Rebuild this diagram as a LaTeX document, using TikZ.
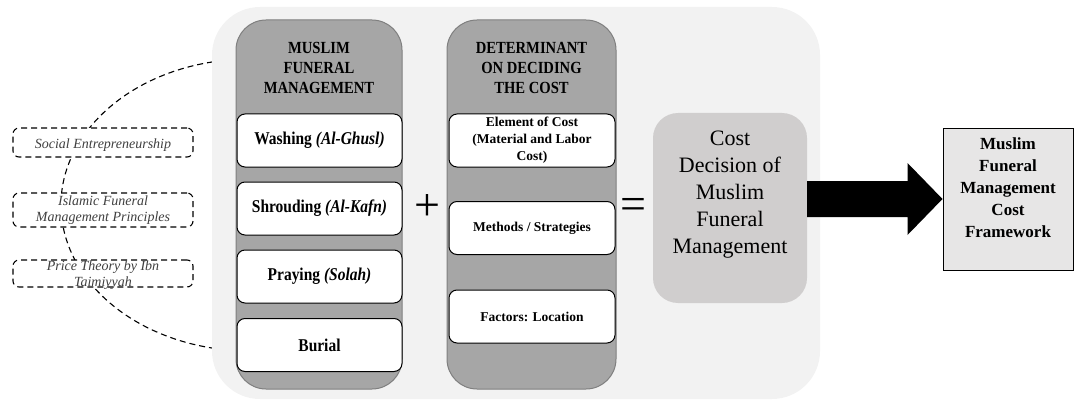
\documentclass[tikz,border=0pt]{standalone}
\usepackage{fontspec}
\setmainfont{Liberation Serif}
\newfontfamily\condfont[FakeStretch=0.86]{Liberation Serif}
\usetikzlibrary{calc}
\definecolor{bggray}{HTML}{F2F2F2}
\definecolor{colgray}{HTML}{A6A6A6}
\definecolor{colline}{HTML}{7F7F7F}
\definecolor{costgray}{HTML}{D0CECE}
\definecolor{fwgray}{HTML}{E7E6E6}
\definecolor{dashtext}{HTML}{404040}
\tikzset{
  column/.style={draw=colline, line width=1pt, fill=colgray, rounded corners=30pt,
    minimum width=166pt, minimum height=369pt, inner sep=0pt},
  coltitle/.style={align=center, inner sep=0pt,
    font=\condfont\bfseries\fontsize{17}{20}\selectfont},
  stepbox/.style={draw=black, line width=1pt, fill=white, rounded corners=8pt,
    minimum width=165pt, minimum height=53pt, inner sep=0pt, align=center,
    font=\condfont\bfseries\fontsize{18}{20}\selectfont},
  detbox/.style={stepbox, font=\bfseries\fontsize{13.5}{17}\selectfont},
  theorybox/.style={draw=black, dash pattern=on 6pt off 4pt, line width=1.1pt,
    fill=white, rounded corners=6pt, minimum width=180pt, inner sep=0pt},
  theorytext/.style={align=center, text=dashtext, inner sep=0pt,
    font=\itshape\fontsize{14}{16}\selectfont},
  arcline/.style={draw=black, dash pattern=on 6pt off 4pt, line width=1.1pt},
  opsign/.style={inner sep=0pt, font=\fontsize{46}{46}\selectfont},
  costbox/.style={fill=costgray, rounded corners=25pt, minimum width=154pt,
    minimum height=190pt, inner sep=0pt},
  costtext/.style={align=center, inner sep=0pt, font=\fontsize{22}{27}\selectfont},
  fwbox/.style={draw=black, line width=1pt, fill=fwgray, minimum width=130pt,
    minimum height=142pt, inner sep=0pt},
  fwtext/.style={align=center, inner sep=0pt, font=\bfseries\fontsize{17}{22}\selectfont},
}
\begin{document}
\begin{tikzpicture}[x=1pt, y=-1pt]
\useasboundingbox (0,0) rectangle (1075,401);
% dashed arc behind everything
\coordinate (arcTop) at ($(250,205)+(258.7:189 and 146)$);
\draw[arcline] (arcTop) arc[start angle=258.7, end angle=101.3, x radius=189, y radius=146];
% background panel
\fill[bggray, rounded corners=48pt] (212,7) rectangle (820,399);
% column 1
\node[column] (col1) at (319,204.5) {};
\node[coltitle] (t1) at (319,68) {MUSLIM\\FUNERAL\\MANAGEMENT};
\node[stepbox] (wash) at (319.5,140.5) {Washing \textit{(Al-Ghusl)}};
\node[stepbox] (shroud) at (319.5,208.5) {Shrouding \textit{(Al-Kafn)}};
\node[stepbox] (pray) at (319.5,276.5) {Praying \textit{(Solah)}};
\node[stepbox] (burial) at (319.5,345) {Burial};
% column 2
\node[column, minimum width=169pt] (col2) at (531.5,204.5) {};
\node[coltitle] (t2) at (531.5,68) {DETERMINANT\\ON DECIDING\\THE COST};
\node[detbox, minimum width=166pt] (elem) at (532,140.5) {Element of Cost\\(Material and Labor\\Cost)};
\node[detbox, minimum width=166pt] (meth) at (532,228) {Methods / Strategies};
\node[detbox, minimum width=166pt] (fact) at (532,316.5) {Factors: Location};
% operators
\node[opsign] (plus) at (427,208) {+};
\node[opsign] (eq) at (633,209) {=};
% cost decision
\node[costbox] (cost) at (730,208) {};
\node[costtext] (costt) at (730,195) {Cost\\Decision of\\Muslim\\Funeral\\Management};
% framework
\node[fwbox] (fw) at (1008,199) {};
\node[fwtext] (fwt) at (1008,188) {Muslim\\Funeral\\Management\\Cost\\Framework};
% big arrow
\fill[black] let \p1=(cost.east), \p2=(fw.west) in
  (\x1,{\y2+18pt}) -- ({\x2-35pt},{\y2+18pt}) -- ({\x2-35pt},{\y2+36pt}) -- (\x2,\y2)
  -- ({\x2-35pt},{\y2-36pt}) -- ({\x2-35pt},{\y2-18pt}) -- (\x1,{\y2-18pt}) -- cycle;
% theory boxes
\node[theorybox, minimum height=29pt] (social) at (103,142.5) {};
\node[theorytext] (socialt) at (103,145) {Social Entrepreneurship};
\node[theorybox, minimum height=34pt] (islamic) at (103,210) {};
\node[theorytext] (islamict) at (103,210) {Islamic Funeral\\Management Principles};
\node[theorybox, minimum height=27pt] (price) at (103,273.5) {};
\node[theorytext] (pricet) at (103,275) {Price Theory by Ibn\\Taimiyyah};
\end{tikzpicture}
\end{document}
